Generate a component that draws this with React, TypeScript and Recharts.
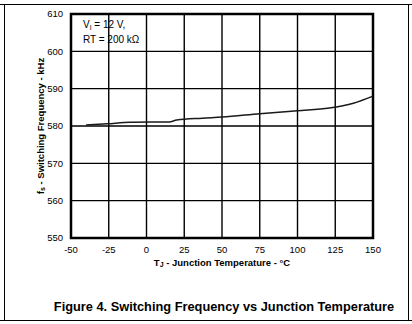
import { LineChart, Line, XAxis, YAxis, CartesianGrid, ReferenceArea } from 'recharts';

const temps = [-40, -26, -11, 15, 20, 37, 50, 75, 100, 121, 137, 150];
const freqs = [580.3, 580.6, 581.0, 581.1, 581.6, 582.1, 582.4, 583.3, 584.1, 584.8, 586.1, 588.0];
const xTicks = [-50, -25, 0, 25, 50, 75, 100, 125, 150];
const yTicks = [550, 560, 570, 580, 590, 600, 610];

const data = temps.map((t, i) => ({ t, f: freqs[i] }));

const FONT = '"Liberation Sans", Arial, sans-serif';

const YLabel = ({ viewBox }: any) => {
  const cx = viewBox.x + 40;
  const cy = viewBox.y + viewBox.height / 2;
  return (
    <text x={cx} y={cy} transform={`rotate(-90 ${cx} ${cy})`} textAnchor="middle" dominantBaseline="central"
      fontFamily={FONT} fontSize={9.5} fontWeight="bold" fill="#000">
      f<tspan dy={2} fontSize={7}>s</tspan><tspan dy={-2}> - Switching Frequency - kHz</tspan>
    </text>
  );
};

const XLabel = ({ viewBox }: any) => {
  const cx = viewBox.x + viewBox.width / 2;
  return (
    <text x={cx} y={viewBox.y + 24} textAnchor="middle" dominantBaseline="central"
      fontFamily={FONT} fontSize={9.5} fontWeight="bold" fill="#000">
      T<tspan dy={2} fontSize={7}>J</tspan><tspan dy={-2}> - Junction Temperature - °C</tspan>
    </text>
  );
};

const line = (s: React.CSSProperties) => <div style={{ position: 'absolute', background: '#000', ...s }} />;

export default function App() {
  return (
    <div style={{ position: 'absolute', left: 0, top: 0, width: 412, height: 324, background: '#fff', fontFamily: FONT }}>
      {line({ left: 0, top: 4, width: 412, height: 1 })}
      {line({ left: 4, top: 4, width: 1, height: 316 })}
      {line({ left: 408, top: 4, width: 1, height: 317 })}
      {line({ left: 0, top: 320, width: 412, height: 1 })}
      <LineChart width={412} height={324} data={data} margin={{ top: 14, right: 39, bottom: 66, left: 0 }}>
        <CartesianGrid stroke="#000" strokeWidth={1.4} />
        <XAxis dataKey="t" type="number" domain={[-50, 150]} ticks={xTicks} height={20}
          tickLine={false} axisLine={false} tick={{ fontSize: 9.5, fill: '#000', fontFamily: FONT }}
          tickMargin={2} label={<XLabel />} />
        <YAxis type="number" domain={[550, 610]} ticks={yTicks} width={71}
          tickLine={false} axisLine={false} tick={{ fontSize: 9.5, fill: '#000', fontFamily: FONT }}
          tickMargin={2} label={<YLabel />} />
        <ReferenceArea x1={-50} x2={150} y1={550} y2={610} fill="none" stroke="#000" strokeWidth={2.5} ifOverflow="visible" />
        <Line dataKey="f" type="monotone" stroke="#1a1a1a" strokeWidth={1.5} dot={false} isAnimationActive={false} />
      </LineChart>
      <div style={{ position: 'absolute', left: 83, top: 19, fontSize: 10, lineHeight: '12px', color: '#000' }}>
        <div>V<sub style={{ fontSize: 6.5, verticalAlign: '-2px' }}>I</sub> = 12 V,</div>
        <div>RT = 200 kΩ</div>
      </div>
      <div style={{ position: 'absolute', left: 0, width: 448, top: 299, textAlign: 'center', fontSize: 12.8, fontWeight: 'bold', color: '#000' }}>
        Figure 4. Switching Frequency vs Junction Temperature
      </div>
    </div>
  );
}
